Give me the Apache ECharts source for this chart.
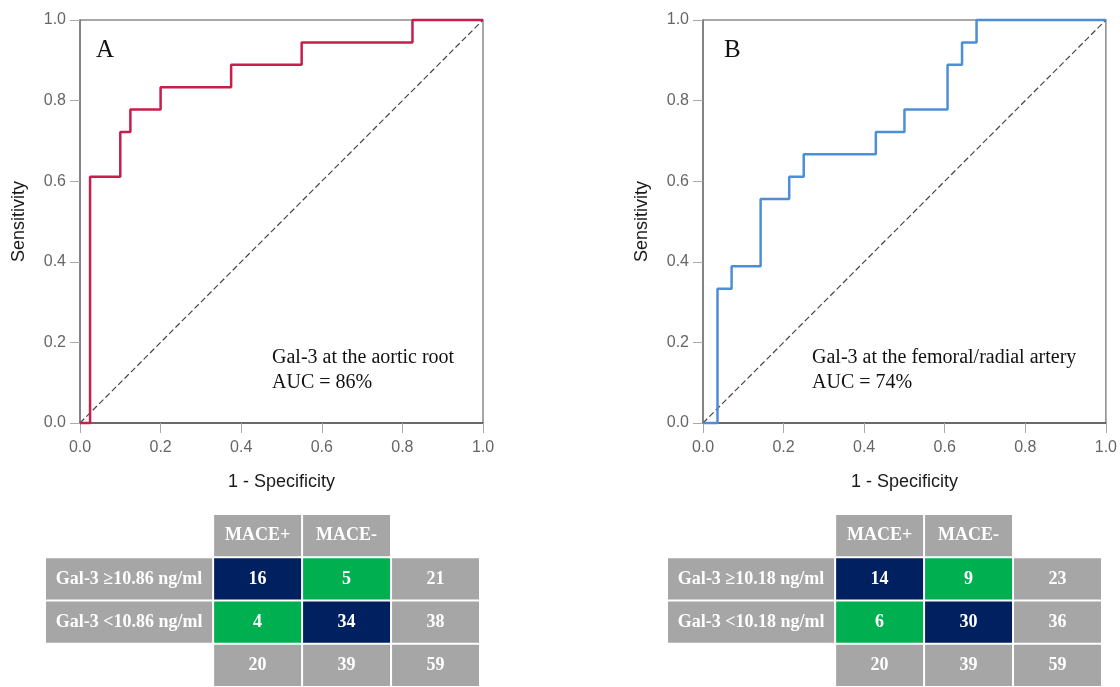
<!DOCTYPE html>
<html>
<head>
<meta charset="utf-8">
<script src="https://cdn.jsdelivr.net/npm/echarts@6/dist/echarts.min.js"></script>
<style>html,body{margin:0;padding:0;background:#fff}#chart{width:1120px;height:687px}</style>
</head>
<body>
<div id="chart"></div>
<script>
// ROC curve A (aortic root)
var fprA = [0, 0.025, 0.1, 0.125, 0.2, 0.375, 0.55, 0.825, 1];
var tprA = [0, 0.611, 0.722, 0.778, 0.833, 0.889, 0.944, 1, 1];
// ROC curve B (femoral/radial artery)
var fprB = [0, 0.036, 0.071, 0.143, 0.214, 0.25, 0.429, 0.5, 0.607, 0.643, 0.679, 1];
var tprB = [0, 0.333, 0.389, 0.556, 0.611, 0.667, 0.722, 0.778, 0.889, 0.944, 1, 1];
var chance = [[0, 0], [1, 1]];
var noteA = ['Gal-3 at the aortic root', 'AUC = 86%'];
var noteB = ['Gal-3 at the femoral/radial artery', 'AUC = 74%'];

// contingency tables
var outcomeHeads = ['MACE+', 'MACE-'];
var cutA = ['Gal-3 \u226510.86 ng/ml', 'Gal-3 <10.86 ng/ml'];
var countsA = [[16, 5], [4, 34]];
var rowTotA = [21, 38];
var colTotA = [20, 39];
var allA = 59;
var cutB = ['Gal-3 \u226510.18 ng/ml', 'Gal-3 <10.18 ng/ml'];
var countsB = [[14, 9], [6, 30]];
var rowTotB = [23, 36];
var colTotB = [20, 39];
var allB = 59;

var colEdges = [0, 1.89, 2.89, 3.89, 4.89];
var cellColors = {head: '#a6a6a6', hit: '#002060', miss: '#00b050'};

function pairs(xs, ys) {
    var out = [];
    for (var i = 0; i < xs.length; i++) out.push([xs[i], ys[i]]);
    return out;
}

function buildCells(cuts, counts, rowTot, colTot, all) {
    var cells = [];
    for (var j = 0; j < 2; j++) cells.push({col: j + 1, row: 0, text: outcomeHeads[j], kind: 'head'});
    for (var i = 0; i < 2; i++) {
        cells.push({col: 0, row: i + 1, text: cuts[i], kind: 'head'});
        for (j = 0; j < 2; j++) {
            cells.push({col: j + 1, row: i + 1, text: String(counts[i][j]), kind: i == j ? 'hit' : 'miss'});
        }
        cells.push({col: 3, row: i + 1, text: String(rowTot[i]), kind: 'head'});
    }
    for (j = 0; j < 2; j++) cells.push({col: j + 1, row: 3, text: String(colTot[j]), kind: 'head'});
    cells.push({col: 3, row: 3, text: String(all), kind: 'head'});
    return cells;
}

function tableSeries(cells, idx) {
    return {
        type: 'custom',
        xAxisIndex: idx, yAxisIndex: idx,
        animation: false,
        data: cells.map(function (c) { return [c.col, c.row]; }),
        renderItem: function (params, api) {
            var cell = cells[params.dataIndex];
            var p0 = api.coord([colEdges[cell.col], cell.row]);
            var p1 = api.coord([colEdges[cell.col + 1], cell.row + 1]);
            return {
                type: 'rect',
                shape: {x: p0[0] + 1, y: p0[1] + 1, width: p1[0] - p0[0] - 2, height: p1[1] - p0[1] - 2},
                style: {fill: cellColors[cell.kind]},
                textContent: {style: {text: cell.text, fill: '#fff', font: 'bold 18px "Liberation Serif"'}},
                textConfig: {position: 'inside'}
            };
        }
    };
}

function rocX(idx) {
    return {
        type: 'value', gridIndex: idx, min: 0, max: 1, interval: 0.2,
        name: '1 - Specificity', nameLocation: 'middle', nameGap: 50,
        nameTextStyle: {fontFamily: 'Liberation Sans', fontSize: 18, color: '#1a1a1a'},
        axisLine: {lineStyle: {color: '#555', width: 1.5}},
        axisTick: {length: 10, lineStyle: {color: '#aaa'}},
        axisLabel: {margin: 17, fontFamily: 'Liberation Sans', fontSize: 16, color: '#666',
                    formatter: function (v) { return v.toFixed(1); }},
        splitLine: {show: false}
    };
}

function rocY(idx) {
    return {
        type: 'value', gridIndex: idx, min: 0, max: 1, interval: 0.2,
        name: 'Sensitivity', nameLocation: 'middle', nameGap: 52,
        nameTextStyle: {fontFamily: 'Liberation Sans', fontSize: 18, color: '#1a1a1a'},
        axisLine: {show: true, lineStyle: {color: '#777', width: 1.5}},
        axisTick: {show: true, length: 10, lineStyle: {color: '#aaa'}},
        axisLabel: {margin: 14, fontFamily: 'Liberation Sans', fontSize: 16, color: '#666',
                    formatter: function (v) { return v.toFixed(1); }},
        splitLine: {show: false}
    };
}

function hiddenAxis(idx, max, inverse) {
    return {type: 'value', gridIndex: idx, min: 0, max: max, inverse: inverse, show: false};
}

function noteText(x, y, text, size) {
    return {type: 'text', style: {x: x, y: y, text: text, font: size + 'px "Liberation Serif"',
            fill: '#111', verticalAlign: 'middle'}};
}

var chart = echarts.init(document.getElementById('chart'));
var option = {
    backgroundColor: '#fff',
    animation: false,
    grid: [
        {left: 80, top: 20, width: 403, height: 403, show: true, borderColor: '#8a8a8a', borderWidth: 1.5},
        {left: 703, top: 20, width: 403, height: 403, show: true, borderColor: '#8a8a8a', borderWidth: 1.5},
        {left: 45, top: 514, width: 435, height: 179},
        {left: 667, top: 514, width: 435, height: 179}
    ],
    xAxis: [rocX(0), rocX(1), hiddenAxis(2, 4.89, false), hiddenAxis(3, 4.89, false)],
    yAxis: [rocY(0), rocY(1), hiddenAxis(2, 4, true), hiddenAxis(3, 4, true)],
    series: [
        {type: 'line', xAxisIndex: 0, yAxisIndex: 0, data: chance, symbol: 'none', silent: true,
         lineStyle: {color: '#444', width: 1.2, type: [6, 3]}},
        {type: 'line', xAxisIndex: 0, yAxisIndex: 0, data: pairs(fprA, tprA), step: 'end', symbol: 'none',
         clip: false, lineStyle: {color: '#c81e4b', width: 2.5}},
        {type: 'line', xAxisIndex: 1, yAxisIndex: 1, data: chance, symbol: 'none', silent: true,
         lineStyle: {color: '#444', width: 1.2, type: [6, 3]}},
        {type: 'line', xAxisIndex: 1, yAxisIndex: 1, data: pairs(fprB, tprB), step: 'end', symbol: 'none',
         clip: false, lineStyle: {color: '#4d8fd6', width: 2.5}},
        tableSeries(buildCells(cutA, countsA, rowTotA, colTotA, allA), 2),
        tableSeries(buildCells(cutB, countsB, rowTotB, colTotB, allB), 3)
    ],
    graphic: [
        noteText(96, 50, 'A', 25),
        noteText(272, 358, noteA[0], 20),
        noteText(272, 383, noteA[1], 20),
        noteText(724, 50, 'B', 25),
        noteText(812, 358, noteB[0], 20),
        noteText(812, 383, noteB[1], 20)
    ]
};
chart.setOption(option);
</script>
</body>
</html>
